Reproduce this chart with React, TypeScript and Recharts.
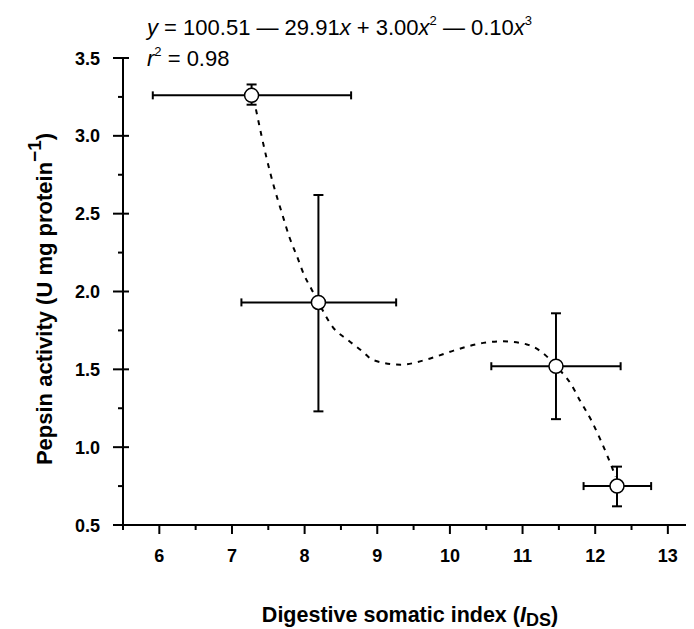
import React from "react"
import {
    ComposedChart,
    Scatter,
    Line,
    XAxis,
    YAxis,
    ErrorBar,
    Customized,
} from "recharts"

// measured points (mean) with their error ranges
const pointX = [7.27, 8.19, 11.46, 12.3]
const pointY = [3.26, 1.93, 1.52, 0.75]
const xLow = [5.91, 7.13, 10.57, 11.84]
const xHigh = [8.64, 9.26, 12.35, 12.77]
const yLow = [3.2, 1.23, 1.18, 0.62]
const yHigh = [3.33, 2.62, 1.86, 0.875]

// fitted curve
const curveX = [7.33, 7.48, 7.58, 7.69, 7.79, 7.9, 7.99, 8.1, 8.19, 8.39, 8.59, 8.81, 8.94, 9.32, 9.73, 10.05, 10.46, 10.73, 11.06, 11.34, 11.46, 11.66, 11.79, 11.96, 12.07, 12.18, 12.28]
const curveY = [3.17, 2.85, 2.67, 2.5, 2.35, 2.22, 2.11, 2.01, 1.93, 1.77, 1.69, 1.61, 1.56, 1.53, 1.57, 1.62, 1.67, 1.68, 1.66, 1.58, 1.52, 1.41, 1.3, 1.16, 1.05, 0.93, 0.81]

const xTicks = [5.5, 6, 6.5, 7, 7.5, 8, 8.5, 9, 9.5, 10, 10.5, 11, 11.5, 12, 12.5, 13]
const yTicks = [0.5, 0.75, 1, 1.25, 1.5, 1.75, 2, 2.25, 2.5, 2.75, 3, 3.25, 3.5]

const FONT = "'Liberation Sans', Arial, sans-serif"

const points = pointX.map((x, i) => ({
    x,
    y: pointY[i],
    ex: [x - xLow[i], xHigh[i] - x],
    ey: [pointY[i] - yLow[i], yHigh[i] - pointY[i]],
}))

const curve = curveX.map((x, i) => ({ x, y: curveY[i] }))

function XTick(props: any) {
    const { x, y, payload } = props
    const major = Number.isInteger(payload.value)
    return (
        <g>
            <line x1={x} x2={x} y1={y} y2={y + (major ? 9 : 5)} stroke="#000" strokeWidth={2} />
            {major && (
                <text x={x} y={y + 37} textAnchor="middle" fontFamily={FONT} fontWeight="bold" fontSize={18} fill="#000">
                    {payload.value}
                </text>
            )}
        </g>
    )
}

function YTick(props: any) {
    const { x, y, payload } = props
    const major = Number.isInteger(payload.value * 2)
    return (
        <g>
            <line x1={major ? x - 10 : x - 5} x2={major ? x + 6 : x} y1={y} y2={y} stroke="#000" strokeWidth={2} />
            {major && (
                <text x={x - 23} y={y + 6.5} textAnchor="end" fontFamily={FONT} fontWeight="bold" fontSize={18} fill="#000">
                    {payload.value.toFixed(1)}
                </text>
            )}
        </g>
    )
}

function Dot(props: any) {
    const { cx, cy } = props
    return <circle cx={cx} cy={cy} r={7} fill="#fff" stroke="#000" strokeWidth={1.5} />
}

function Labels() {
    return (
        <g fontFamily={FONT} fill="#000">
            <text x={139} y={27} fontSize={22}>
                <tspan fontStyle="italic">y</tspan>
                <tspan>{" = 100.51 — 29.91"}</tspan>
                <tspan fontStyle="italic">x</tspan>
                <tspan>{" + 3.00"}</tspan>
                <tspan fontStyle="italic">x</tspan>
                <tspan dy={-10} fontSize={13}>2</tspan>
                <tspan dy={10}>{" — 0.10"}</tspan>
                <tspan fontStyle="italic">x</tspan>
                <tspan dy={-10} fontSize={13}>3</tspan>
            </text>
            <text x={139} y={58} fontSize={22}>
                <tspan fontStyle="italic">r</tspan>
                <tspan dy={-10} fontSize={13}>2</tspan>
                <tspan dy={10}>{" = 0.98"}</tspan>
            </text>
            <text x={402} y={614} textAnchor="middle" fontSize={21.5} fontWeight="bold">
                <tspan>{"Digestive somatic index ("}</tspan>
                <tspan fontStyle="italic">I</tspan>
                <tspan dy={4} fontSize={18}>DS</tspan>
                <tspan dy={-4}>)</tspan>
            </text>
            <text transform="rotate(-90)" x={-291} y={44} textAnchor="middle" fontSize={22} fontWeight="bold">
                <tspan>{"Pepsin activity (U mg protein"}</tspan>
                <tspan dy={-11} fontSize={19}>−1</tspan>
                <tspan dy={11}>)</tspan>
            </text>
        </g>
    )
}

export default function App() {
    return (
        <div style={{ width: 686, height: 621 }}>
            <style>{"html, body { overflow: hidden; }"}</style>
            <ComposedChart width={686} height={621} margin={{ top: 50, right: 0, left: 0, bottom: 0 }}>
                <XAxis
                    dataKey="x"
                    type="number"
                    domain={[5.5, 13.36]}
                    allowDataOverflow
                    ticks={xTicks}
                    interval={0}
                    height={104}
                    tickSize={0}
                    tickMargin={0}
                    tickLine={false}
                    axisLine={{ stroke: "#000", strokeWidth: 2 }}
                    tick={<XTick />}
                />
                <YAxis
                    type="number"
                    domain={[0.5, 3.5]}
                    ticks={yTicks}
                    interval={0}
                    width={115}
                    tickSize={0}
                    tickMargin={0}
                    tickLine={false}
                    axisLine={{ stroke: "#000", strokeWidth: 2 }}
                    tick={<YTick />}
                />
                <Scatter data={points} dataKey="y" shape={<Dot />} isAnimationActive={false}>
                    <ErrorBar dataKey="ey" direction="y" width={5} stroke="#000" strokeWidth={2} />
                    <ErrorBar dataKey="ex" direction="x" width={4} stroke="#000" strokeWidth={2} />
                </Scatter>
                <Line
                    data={curve}
                    dataKey="y"
                    type="monotone"
                    stroke="#000"
                    strokeWidth={2}
                    strokeDasharray="5 6"
                    dot={false}
                    activeDot={false}
                    isAnimationActive={false}
                />
                <Customized component={Labels} />
            </ComposedChart>
        </div>
    )
}
